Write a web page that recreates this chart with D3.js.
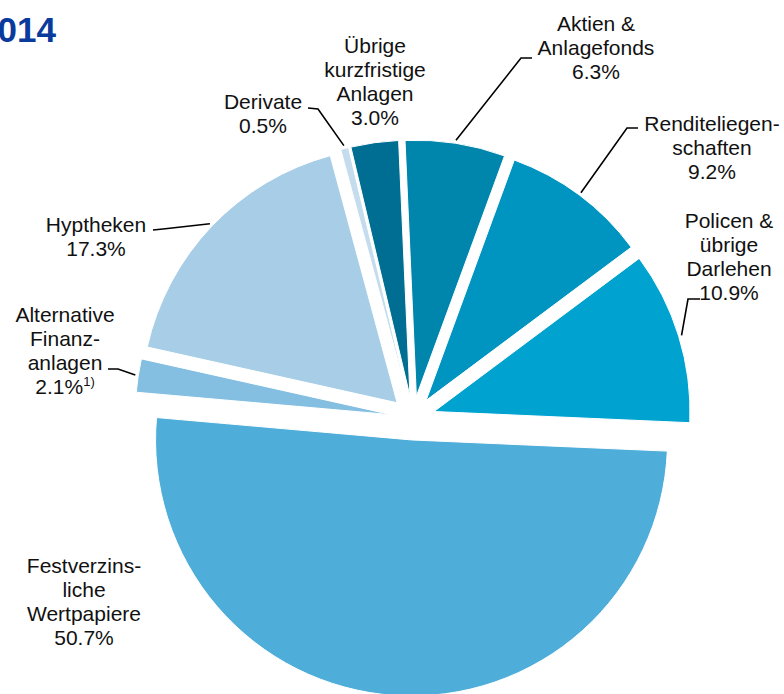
<!DOCTYPE html>
<html>
<head>
<meta charset="utf-8">
<script src="https://cdn.jsdelivr.net/npm/d3@7/dist/d3.min.js"></script>
<style>
  html, body { margin: 0; padding: 0; background: #fff; }
  svg { display: block; font-family: "Liberation Sans", Arial, sans-serif; }
</style>
</head>
<body>
<svg id="chart" width="784" height="694"></svg>
<script>
// Asset allocation 2014 (share of total, %), clockwise from the top
const categories = [
  "Übrige kurzfristige Anlagen",
  "Aktien & Anlagefonds",
  "Renditeliegenschaften",
  "Policen & übrige Darlehen",
  "Festverzinsliche Wertpapiere",
  "Alternative Finanzanlagen",
  "Hyptheken",
  "Derivate"
];
const shares = [3.0, 6.3, 9.2, 10.9, 50.7, 2.1, 17.3, 0.5];
const labelLines = [
  ["Übrige", "kurzfristige", "Anlagen"],
  ["Aktien &", "Anlagefonds"],
  ["Renditeliegen-", "schaften"],
  ["Policen &", "übrige", "Darlehen"],
  ["Festverzins-", "liche", "Wertpapiere"],
  ["Alternative", "Finanz-", "anlagen"],
  ["Hyptheken"],
  ["Derivate"]
];
const footnotes = ["", "", "", "", "", "1)", "", ""];
const colors = ["#006e92", "#0086ac", "#0094c0", "#00a2cf", "#4eaed9", "#84bfe1", "#a7cee6", "#c4dced"];
const titleText = "2014";

// label placement: centre of the text block, first line, and leader knee
const labelLayout = [
  { x: 375, y: 45,  knee: null },
  { x: 596, y: 23,  knee: [[532, 58], [521, 58]] },
  { x: 712, y: 123, knee: [[638, 128], [627, 128]] },
  { x: 729, y: 220, knee: [[700, 299], [688, 299]] },
  { x: 84,  y: 565, knee: null },
  { x: 65,  y: 314, knee: [[108, 369], [118, 369]] },
  { x: 96,  y: 224, knee: [[153, 230], [163, 229]] },
  { x: 263, y: 101, knee: [[308, 108], [318, 109]] }
];

const svg = d3.select("#chart");
const cx = 413, cy = 418, radius = 256, explode = 22;
const lineH = 24;
const deg = Math.PI / 180;
const start = -13.34 * deg;

const pie = d3.pie().value(d => d).sort(null)
  .startAngle(start).endAngle(start + 2 * Math.PI);
const arcs = pie(shares);
const arc = d3.arc().innerRadius(0).outerRadius(radius);

const mid = a => (a.startAngle + a.endAngle) / 2;
const offset = a => [Math.sin(mid(a)) * explode, -Math.cos(mid(a)) * explode];

const g = svg.append("g").attr("transform", `translate(${cx},${cy})`);

g.selectAll("path.slice").data(arcs).join("path")
  .attr("class", "slice")
  .attr("transform", d => { const o = offset(d); return `translate(${o[0]},${o[1]})`; })
  .attr("d", arc)
  .attr("fill", (d, i) => colors[i])
  .attr("stroke", "#fff")
  .attr("stroke-width", 1);

// leader lines: from the label knee to the outer rim of the slice
const line = d3.line();
arcs.forEach((a, i) => {
  const L = labelLayout[i];
  if (!L.knee) return;
  const o = offset(a);
  const m = mid(a);
  const rr = radius + 3;
  const end = [cx + o[0] + Math.sin(m) * rr, cy + o[1] - Math.cos(m) * rr];
  svg.append("path")
    .attr("d", line([...L.knee, end]))
    .attr("fill", "none")
    .attr("stroke", "#000")
    .attr("stroke-width", 1.6);
});

// labels
arcs.forEach((a, i) => {
  const L = labelLayout[i];
  const t = svg.append("text")
    .attr("text-anchor", "middle")
    .attr("font-size", 21)
    .attr("fill", "#111");
  const lines = labelLines[i];
  lines.forEach((s, k) => {
    t.append("tspan").attr("x", L.x).attr("y", L.y + k * lineH).attr("dy", "0.36em").text(s);
  });
  const pct = t.append("tspan").attr("x", L.x).attr("y", L.y + lines.length * lineH).attr("dy", "0.36em")
    .text(shares[i].toFixed(1) + "%");
  if (footnotes[i]) {
    t.append("tspan").attr("font-size", 13).attr("dy", "-0.55em").text(footnotes[i]);
  }
});

// title (running off the left edge)
svg.append("text")
  .attr("x", 56).attr("y", 42)
  .attr("text-anchor", "end")
  .attr("font-size", 35)
  .attr("font-weight", "bold")
  .attr("fill", "#0a3a9c")
  .text(titleText);
</script>
</body>
</html>
